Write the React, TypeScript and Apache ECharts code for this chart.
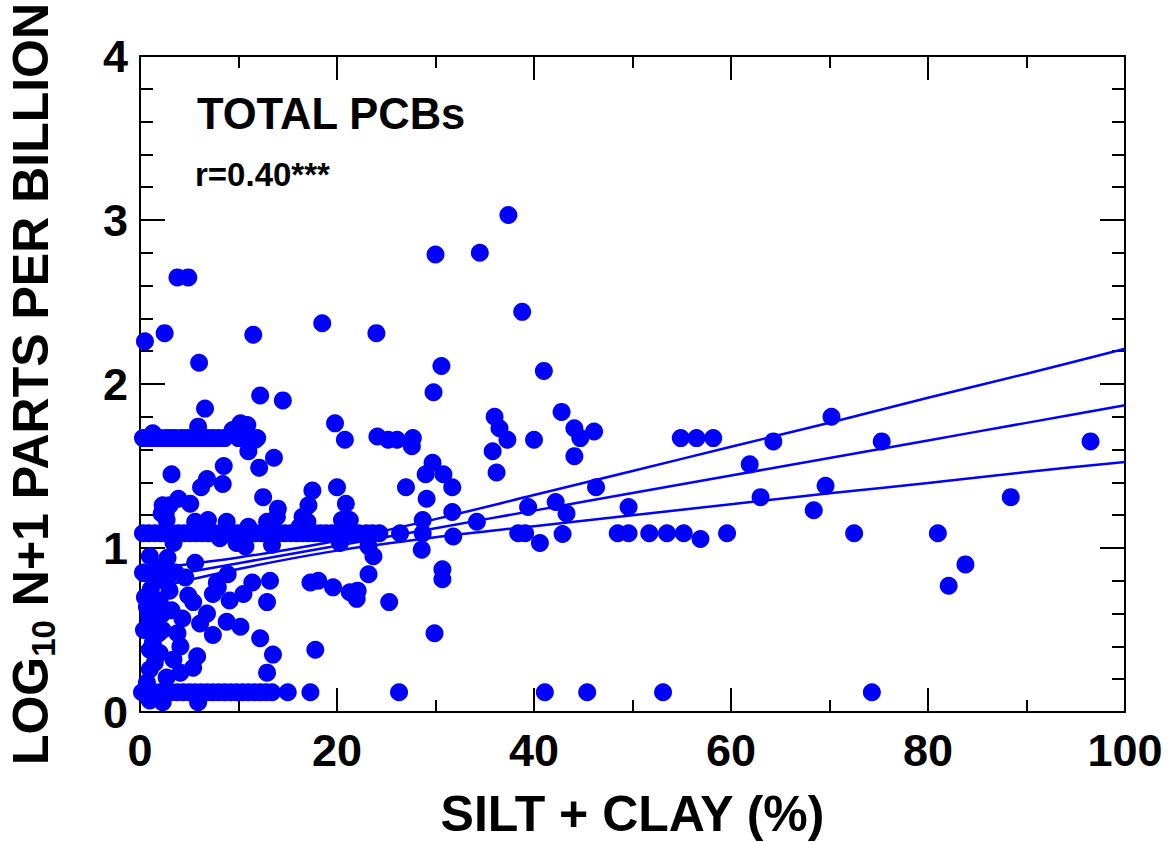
import React, { useEffect, useRef } from "react";
import * as echarts from "echarts";

// Scatter points: silt + clay (%) and log10(N+1) ppb total PCBs
const siltClayPct = [
  // row near 1.67
  0.3, 0.9, 1.5, 2.0, 2.6, 3.1, 3.6, 4.2, 4.7, 5.2, 5.8, 6.3, 6.9, 7.4, 8.0, 8.6, 10.0, 10.6, 11.2, 11.9,
  // around the 1.67 row
  1.3, 5.9, 6.6, 10.2, 10.9, 9.4, 11.7, 11.0, 12.2, 14.5, 13.6, 12.1, 8.5, 3.2, 6.8, 6.2, 8.4, 12.5, 2.3, 3.9, 5.1, 14.0, 17.5, 17.1, 2.6, 3.0,
  // high values
  0.5, 2.5, 3.8, 4.9, 6.0, 11.5, 18.5, 24.0, 30.0, 34.5, 37.4, 38.8, 41.0, 30.6, 29.8,
  // row near 1.09
  0.3, 0.9, 1.5, 2.1, 2.7, 3.3, 3.9, 4.5, 5.1, 5.7, 6.3, 6.9, 7.5, 8.1, 8.7, 9.3, 9.9, 10.5, 11.1, 11.7, 12.3, 12.9, 13.5, 14.1, 14.7, 15.3, 15.9, 16.5, 17.1, 17.7, 18.3, 18.9, 19.5, 20.1, 20.8, 21.5, 22.2, 23.0, 23.6, 24.3, 26.4, 28.7,
  // around the 1.09 row
  5.6, 6.9, 8.8, 11.0, 12.9, 13.9, 16.5, 2.2, 2.7, 3.4, 8.1, 10.7, 9.8, 13.4, 20.5, 21.3, 20.3, 16.2, 17.0,
  // lower cloud
  2.8, 1.7, 5.6, 8.9, 2.7, 3.0, 7.8, 11.4, 13.2, 17.3, 18.1, 7.4, 7.9, 4.9, 5.4, 10.5, 9.1, 12.9, 0.7, 2.0, 2.3, 4.3, 6.8, 6.1, 8.8, 10.2, 7.4, 12.2, 1.3, 1.0, 2.3, 3.8, 4.1, 3.4, 5.8, 13.5, 5.4, 12.9, 17.8, 1.0, 2.7, 4.1, 2.0, 0.5, 1.2, 1.0, 1.5, 2.0,
  0.4, 0.9, 1.6, 0.3, 1.9, 1.5, 0.7, 2.5, 3.2, 1.1, 3.6, 4.6,
  // row near 0.12
  0.2, 0.8, 1.4, 2.0, 2.6, 3.2, 3.8, 4.4, 5.0, 5.6, 6.2, 6.8, 7.4, 8.0, 8.6, 9.2, 9.8, 10.4, 11.0, 11.6, 12.2, 12.8, 13.4, 15.0, 17.3, 1.0, 2.3, 5.9,
  // middle region
  19.8, 20.8, 24.1, 25.2, 26.1, 27.7, 27.6, 29.7, 29.0, 30.8, 31.7, 29.1, 27.0, 20.0, 20.9, 28.7, 31.7, 34.2, 36.0, 36.5, 37.3, 35.8, 36.2, 40.0, 39.4, 38.4, 39.1, 40.6, 31.8, 28.6, 23.2, 23.7, 23.2, 25.3, 30.7, 30.7, 29.9, 19.6, 21.3, 22.1, 22.0, 26.3, 41.1,
  // right region
  42.8, 44.1, 44.7, 46.1, 44.1, 42.2, 43.3, 42.9, 46.3, 49.6, 48.5, 49.6, 51.7, 53.5, 55.2, 56.9, 59.6, 54.9, 56.5, 58.2, 61.9, 64.3, 63.0, 68.4, 69.6, 70.2, 72.5, 75.3, 81.0, 82.1, 83.8, 88.4, 96.5, 45.4, 53.1, 74.3,
];

const logPcb = [
  1.67, 1.67, 1.67, 1.67, 1.67, 1.67, 1.67, 1.67, 1.67, 1.67, 1.67, 1.67, 1.67, 1.67, 1.67, 1.67, 1.67, 1.67, 1.67, 1.67,
  1.70, 1.74, 1.85, 1.76, 1.75, 1.72, 1.66, 1.59, 1.93, 1.90, 1.55, 1.49, 1.50, 1.45, 1.42, 1.37, 1.39, 1.31, 1.26, 1.30, 1.27, 1.24, 1.35, 1.26, 1.21, 1.26,
  2.26, 2.31, 2.65, 2.65, 2.13, 2.30, 2.37, 2.31, 2.79, 2.80, 3.03, 2.44, 2.08, 2.11, 1.95,
  1.09, 1.09, 1.09, 1.09, 1.09, 1.09, 1.09, 1.09, 1.09, 1.09, 1.09, 1.09, 1.09, 1.09, 1.09, 1.09, 1.09, 1.09, 1.09, 1.09, 1.09, 1.09, 1.09, 1.09, 1.09, 1.09, 1.09, 1.09, 1.09, 1.09, 1.09, 1.09, 1.09, 1.09, 1.09, 1.09, 1.09, 1.09, 1.09, 1.09, 1.09, 1.09,
  1.16, 1.17, 1.16, 1.13, 1.16, 1.19, 1.19, 1.21, 1.17, 1.03, 1.06, 1.01, 1.03, 1.02, 1.17, 1.17, 1.03, 1.13, 1.16,
  0.94, 0.88, 0.91, 0.84, 0.79, 0.74, 0.79, 0.79, 0.80, 0.79, 0.80, 0.72, 0.76, 0.71, 0.67, 0.72, 0.68, 0.67, 0.64, 0.68, 0.60, 0.57, 0.60, 0.54, 0.55, 0.52, 0.47, 0.45, 0.42, 0.38, 0.50, 0.48, 0.40, 0.32, 0.34, 0.35, 0.27, 0.24, 0.38, 0.26, 0.21, 0.24, 0.36, 0.70, 0.55, 0.95, 0.80, 0.88,
  0.50, 0.58, 0.66, 0.85, 0.48, 0.30, 0.18, 0.88, 0.62, 0.75, 0.85, 0.82,
  0.12, 0.12, 0.12, 0.12, 0.12, 0.12, 0.12, 0.12, 0.12, 0.12, 0.12, 0.12, 0.12, 0.12, 0.12, 0.12, 0.12, 0.12, 0.12, 0.12, 0.12, 0.12, 0.12, 0.12, 0.12, 0.07, 0.06, 0.06,
  1.76, 1.66, 1.68, 1.66, 1.66, 1.67, 1.62, 1.52, 1.45, 1.45, 1.37, 1.30, 1.37, 1.37, 1.27, 1.17, 1.22, 1.16, 1.80, 1.73, 1.66, 1.59, 1.46, 1.66, 1.25, 1.09, 1.09, 1.03, 1.07, 0.99, 1.01, 0.95, 0.84, 0.67, 0.87, 0.81, 0.48, 0.76, 0.73, 0.74, 0.69, 0.12, 0.12,
  1.83, 1.73, 1.67, 1.71, 1.56, 1.28, 1.21, 1.085, 1.37, 1.25, 1.09, 1.09, 1.09, 1.09, 1.09, 1.055, 1.09, 1.67, 1.67, 1.67, 1.51, 1.65, 1.31, 1.23, 1.38, 1.80, 1.09, 1.65, 1.09, 0.77, 0.90, 1.31, 1.65, 0.12, 0.12, 0.12,
];

// Regression line and confidence band
const fitX = [0, 10, 20, 30, 40, 50, 60, 70, 80, 90, 100];
const fitMid = [0.8, 0.907, 1.014, 1.121, 1.228, 1.335, 1.442, 1.549, 1.656, 1.763, 1.87];
const fitUpper = [0.865, 0.942, 1.044, 1.176, 1.323, 1.47, 1.617, 1.764, 1.916, 2.063, 2.215];
const fitLower = [0.735, 0.872, 0.984, 1.066, 1.133, 1.2, 1.267, 1.334, 1.396, 1.463, 1.525];

const xTitle = "SILT + CLAY (%)";
const yTitle = "{a|LOG}{s|10}{a| N+1 PARTS PER BILLION}";
const panelTitle = "TOTAL PCBs";
const panelStat = "r=0.40***";

const BLUE = "#0000ff";
const FONT = "'Liberation Sans', Arial, sans-serif";

export default function App() {
  const ref = useRef<HTMLDivElement>(null);
  useEffect(() => {
    const chart = echarts.init(ref.current!, null, { renderer: "svg" });
    const pts = siltClayPct.map((x, i) => [x, logPcb[i]]);
    const line = (ys: number[]) => fitX.map((x, i) => [x, ys[i]]);
    const axisLine = { show: true, onZero: false, lineStyle: { color: "#000", width: 2 } };
    const xCommon = {
      type: "value" as const,
      min: 0,
      max: 100,
      interval: 20,
      axisLine,
      axisTick: { show: true, inside: true, length: 24, lineStyle: { color: "#000", width: 2 } },
      minorTick: { show: true, splitNumber: 2, length: 12, lineStyle: { color: "#000", width: 2 } },
      splitLine: { show: false },
      minorSplitLine: { show: false },
    };
    const yCommon = {
      type: "value" as const,
      min: 0,
      max: 4,
      interval: 1,
      axisLine,
      axisTick: { show: true, inside: true, length: 25, lineStyle: { color: "#000", width: 2 } },
      minorTick: { show: true, splitNumber: 5, length: 13, lineStyle: { color: "#000", width: 2 } },
      splitLine: { show: false },
      minorSplitLine: { show: false },
    };
    const labelStyle = { fontSize: 45, fontWeight: "bold" as const, color: "#000", fontFamily: FONT };
    chart.setOption({
      animation: false,
      backgroundColor: "#fff",
      grid: { left: 140, right: 46, top: 56, bottom: 130, containLabel: false, outerBoundsMode: "none" },
      xAxis: [
        {
          ...xCommon,
          position: "bottom",
          axisLabel: { ...labelStyle, margin: 16 },
          name: xTitle,
          nameLocation: "middle",
          nameGap: 77,
          nameTextStyle: { fontSize: 50, fontWeight: "bold", color: "#000", fontFamily: FONT },
        },
        { ...xCommon, position: "top", axisLabel: { show: false } },
      ],
      yAxis: [
        {
          ...yCommon,
          position: "left",
          axisLabel: { ...labelStyle, margin: 12 },
          name: yTitle,
          nameLocation: "middle",
          nameRotate: 90,
          nameGap: 80,
          nameTextStyle: {
            color: "#000",
            fontFamily: FONT,
            rich: {
              a: { fontSize: 50, fontWeight: "bold", color: "#000", fontFamily: FONT, lineHeight: 58, verticalAlign: "middle" },
              s: { fontSize: 33, fontWeight: "bold", color: "#000", fontFamily: FONT, lineHeight: 16, verticalAlign: "bottom" },
            },
          },
        },
        { ...yCommon, position: "right", axisLabel: { show: false } },
      ],
      graphic: [
        {
          type: "text",
          x: 197,
          y: 114,
          style: { text: panelTitle, fontSize: 43.5, fontWeight: "bold", fontFamily: FONT, fill: "#000", verticalAlign: "middle" },
        },
        {
          type: "text",
          x: 195,
          y: 174,
          style: { text: panelStat, fontSize: 33, fontWeight: "bold", fontFamily: FONT, fill: "#000", verticalAlign: "middle" },
        },
      ],
      series: [
        {
          type: "scatter",
          data: pts,
          symbol: "circle",
          symbolSize: 18,
          itemStyle: { color: BLUE, opacity: 1 },
          z: 2,
        },
        ...[fitUpper, fitMid, fitLower].map((ys) => ({
          type: "line",
          data: line(ys),
          showSymbol: false,
          smooth: 0.3,
          lineStyle: { color: BLUE, width: 2.5 },
          z: 3,
        })),
      ],
    });
    return () => chart.dispose();
  }, []);
  return (
    <div
      ref={ref}
      style={{ position: "fixed", left: 0, top: 0, width: 1171, height: 842, background: "#fff" }}
    />
  );
}
